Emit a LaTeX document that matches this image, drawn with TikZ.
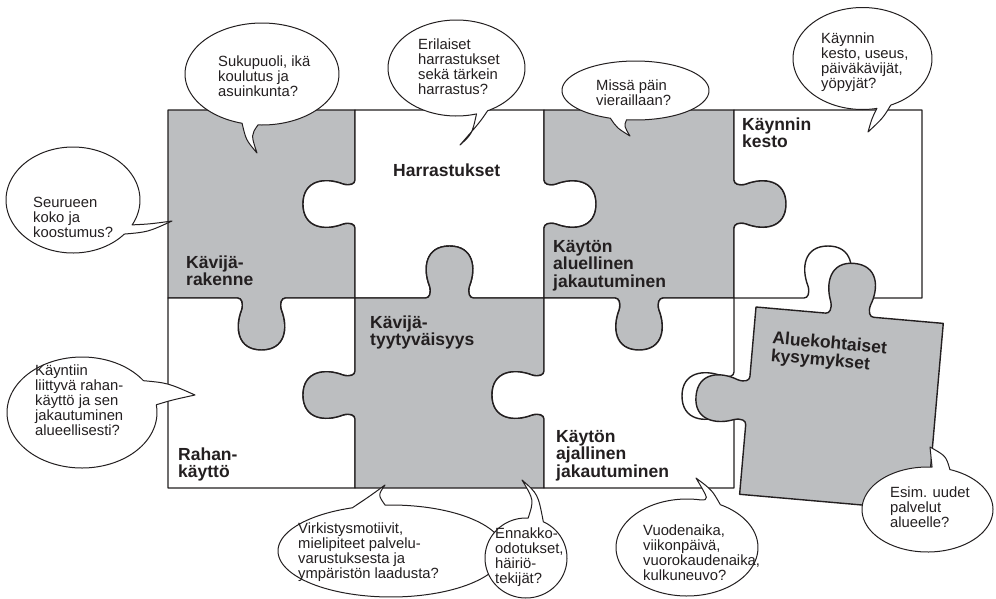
\documentclass[tikz,border=0pt]{standalone}
\usepackage{fontspec}
\setmainfont{Liberation Sans}
\definecolor{pgray}{HTML}{BCBEC0}
\definecolor{ink}{HTML}{231F20}
\newcommand\bt[1]{{\fontsize{14.8}{14.6}\selectfont\begin{tabular}[t]{@{}l@{}}#1\end{tabular}}}
\newcommand\lb[1]{{\fontsize{17.5}{16.8}\selectfont\bfseries\begin{tabular}[t]{@{}l@{}}#1\end{tabular}}}
\tikzset{
 piece/.style={draw=ink, line width=1.4pt, line join=round},
 bubble/.style={draw=ink, fill=white, line width=1pt, line join=round},
 lbl/.style={anchor=base west, inner sep=0pt, text=ink},
 kn/.style n args={6}{insert path={
  -- ({#1+(-24)*(#3)},{#2+(-24)*(#4)})
  .. controls ({#1+(-20)*(#3)},{#2+(-20)*(#4)}) and ({#1+(-18)*(#3)+5*(#5)},{#2+(-18)*(#4)+5*(#6)})
  .. ({#1+(-20)*(#3)+12*(#5)},{#2+(-20)*(#4)+12*(#6)})
  .. controls ({#1+(-27)*(#3)+30*(#5)},{#2+(-27)*(#4)+30*(#6)}) and ({#1+(-24)*(#3)+52*(#5)},{#2+(-24)*(#4)+52*(#6)})
  .. ({#1+52*(#5)},{#2+52*(#6)})
  .. controls ({#1+24*(#3)+52*(#5)},{#2+24*(#4)+52*(#6)}) and ({#1+27*(#3)+30*(#5)},{#2+27*(#4)+30*(#6)})
  .. ({#1+20*(#3)+12*(#5)},{#2+20*(#4)+12*(#6)})
  .. controls ({#1+18*(#3)+5*(#5)},{#2+18*(#4)+5*(#6)}) and ({#1+20*(#3)},{#2+20*(#4)})
  .. ({#1+24*(#3)},{#2+24*(#4)})
 }}
}
% bubble: cx cy rx ry t1 t2 tip c1 c2
\newcommand\bub[9]{%
 \pgfmathsetmacro\bubend{#5+360}%
 \filldraw[bubble] ({#1+(#3)*cos(#5)},{#2+(#4)*sin(#5)}) .. controls (#8) .. (#7) .. controls (#9) .. ({#1+(#3)*cos(#6)},{#2+(#4)*sin(#6)}) -- plot[domain=#6:\bubend, samples=120] ({#1+(#3)*cos(\x)},{#2+(#4)*sin(\x)}) -- cycle;}
\begin{document}
\begin{tikzpicture}[x=1pt,y=-1pt]
\useasboundingbox (0,0) rectangle (996,598);
\fill[white] (0,0) rectangle (996,598);
% row 1
\filldraw[piece, fill=pgray] (168,110) -- (355,110) [kn={355}{204}{0}{1}{-1}{0}] -- (355,298) [kn={261.5}{298}{-1}{0}{0}{1}] -- (168,298) -- cycle;
\filldraw[piece, fill=white] (355,110) -- (544,110) [kn={544}{204}{0}{1}{1}{0}] -- (544,298) [kn={449.5}{298}{-1}{0}{0}{-1}] -- (355,298) [kn={355}{204}{0}{-1}{-1}{0}] -- cycle;
\filldraw[piece, fill=pgray] (544,110) -- (734,110) [kn={734}{204}{0}{1}{1}{0}] -- (734,298) [kn={639}{298}{-1}{0}{0}{1}] -- (544,298) [kn={544}{204}{0}{-1}{1}{0}] -- cycle;
\filldraw[piece, fill=white] (734,110) -- (922,110) -- (922,298) [kn={828}{298}{-1}{0}{0}{-1}] -- (734,298) [kn={734}{204}{0}{-1}{1}{0}] -- cycle;
% row 2
\filldraw[piece, fill=white] (168,298) [kn={261.5}{298}{1}{0}{0}{1}] -- (355,298) [kn={355}{395}{0}{1}{-1}{0}] -- (355,488) -- (168,488) -- cycle;
\filldraw[piece, fill=pgray] (355,298) [kn={449.5}{298}{1}{0}{0}{-1}] -- (544,298) [kn={544}{395}{0}{1}{-1}{0}] -- (544,488) -- (355,488) [kn={355}{395}{0}{-1}{-1}{0}] -- cycle;
\filldraw[piece, fill=white] (544,298) [kn={639}{298}{1}{0}{0}{1}] -- (734,298) [kn={734}{396}{0}{1}{-1}{0}] -- (734,488) -- (544,488) [kn={544}{395}{0}{-1}{-1}{0}] -- cycle;
% labels
\node[lbl] (l11) at (186,268) {\lb{Kävijä-\\rakenne}};
\node[lbl] (l12) at (393,176) {\lb{Harrastukset}};
\node[lbl] (l13) at (553,252) {\lb{Käytön\\aluellinen\\jakautuminen}};
\node[lbl] (l14) at (742,130) {\lb{Käynnin\\kesto}};
\node[lbl] (l22) at (370,328) {\lb{Kävijä-\\tyytyväisyys}};
\node[lbl] (l21) at (178,460) {\lb{Rahan-\\käyttö}};
\node[lbl] (l23) at (556,442) {\lb{Käytön\\ajallinen\\jakautuminen}};
% loose piece
\begin{scope}[shift={(756,307)}, rotate=-5]
\filldraw[piece, fill=pgray] (0,0) [kn={94}{0}{1}{0}{0}{-1}] -- (188,0) -- (188,188) -- (0,188) [kn={0}{94}{0}{-1}{-1}{0}] -- cycle;
\node[lbl, transform shape] (l24) at (19,35) {\lb{Aluekohtaiset\\kysymykset}};
\end{scope}
% bubbles
\bub{262}{74}{77}{51}{93}{105}{257,153}{251,135}{246,140}
\node[lbl] (b1) at (218,66) {\bt{Sukupuoli, ikä\\koulutus ja\\asuinkunta?}};
\bub{456.5}{68}{68.5}{48}{63}{73}{460,145}{480,122}{472,134}
\node[lbl] (b2) at (418,49) {\bt{Erilaiset\\harrastukset\\sekä tärkein\\harrastus?}};
\bub{73}{200}{67}{53}{28}{40}{172,221}{150,224}{148,232}
\node[lbl] (b3) at (33,207) {\bt{Seurueen\\koko ja\\koostumus?}};
\bub{635.5}{90.5}{73.5}{29.5}{97}{110}{630,136}{624,126}{617,128}
\node[lbl] (b4) at (596,90) {\bt{Missä päin\\vieraillaan?}};
\bub{862.5}{58.5}{69.5}{51}{66}{78}{868,132}{883,118}{872,118}
\node[lbl] (b5) at (821,43) {\bt{Käynnin\\kesto, useus,\\päiväkävijät,\\yöpyjät?}};
\bub{82}{412.5}{75}{55.5}{-35}{-8}{195,395}{168,383}{172,400}
\node[lbl] (b6) at (35,375) {\bt{Käyntiin\\liittyvä rahan-\\käyttö ja sen\\jakautuminen\\alueellisesti?}};
\bub{391}{551}{113}{46}{250}{267}{385,485}{370,496}{378,495}
\node[lbl] (b7) at (298,533) {\bt{Virkistysmotiivit,\\mielipiteet palvelu-\\varustuksesta ja\\ympäristön laadusta?}};
\bub{526}{558}{41}{40}{273}{295}{522,480}{534,500}{538,494}
\node[lbl] (b8) at (495,538) {\bt{Ennakko-\\odotukset,\\häiriö-\\tekijät?}};
\bub{687}{547.5}{71}{48.5}{281}{298}{696,478}{709,500}{712,490}
\node[lbl] (b9) at (643,535) {\bt{Vuodenaika,\\viikonpäivä,\\vuorokaudenaika,\\kulkuneuvo?}};
\bub{927.5}{509.5}{65.5}{42.5}{274}{290}{930,447}{931,458}{946,456}
\node[lbl] (b10) at (890,497) {\bt{Esim. uudet\\palvelut\\alueelle?}};
\end{tikzpicture}
\end{document}
